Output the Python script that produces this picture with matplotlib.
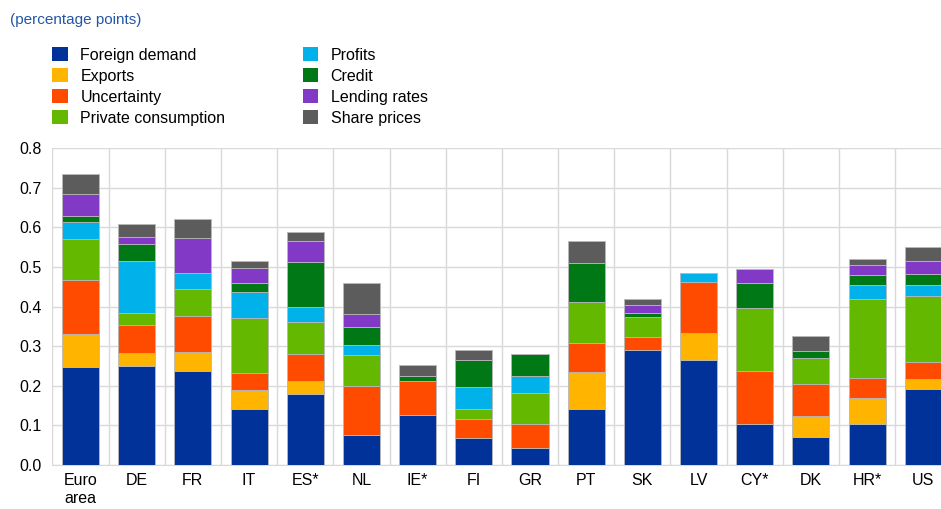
import matplotlib
matplotlib.use("Agg")
import matplotlib.pyplot as plt
import numpy as np
from matplotlib.patches import Patch

plt.rcParams['font.family'] = ['Liberation Sans', 'DejaVu Sans']

categories = ["Euro\narea", "DE", "FR", "IT", "ES*", "NL", "IE*", "FI", "GR", "PT",
              "SK", "LV", "CY*", "DK", "HR*", "US"]

series_names = ["Foreign demand", "Exports", "Uncertainty", "Private consumption",
                "Profits", "Credit", "Lending rates", "Share prices"]

foreign_demand = [0.248, 0.251, 0.238, 0.142, 0.179, 0.077, 0.127, 0.069, 0.044, 0.142,
                  0.291, 0.264, 0.104, 0.070, 0.104, 0.193]
exports = [0.083, 0.033, 0.047, 0.047, 0.033, 0.000, 0.000, 0.000, 0.000, 0.092,
           0.000, 0.069, 0.000, 0.055, 0.064, 0.023]
uncertainty = [0.136, 0.070, 0.092, 0.043, 0.069, 0.123, 0.084, 0.048, 0.059, 0.073,
               0.032, 0.130, 0.133, 0.080, 0.051, 0.044]
private_consumption = [0.104, 0.031, 0.067, 0.139, 0.081, 0.079, 0.000, 0.024, 0.078, 0.106,
                       0.051, 0.000, 0.159, 0.065, 0.200, 0.168]
profits = [0.043, 0.130, 0.040, 0.066, 0.036, 0.023, 0.000, 0.057, 0.043, 0.000,
           0.000, 0.021, 0.000, 0.000, 0.036, 0.027]
credit = [0.016, 0.042, 0.000, 0.023, 0.116, 0.047, 0.015, 0.066, 0.056, 0.096,
          0.011, 0.000, 0.064, 0.019, 0.026, 0.028]
lending_rates = [0.054, 0.019, 0.090, 0.038, 0.051, 0.033, 0.000, 0.000, 0.000, 0.000,
                 0.018, 0.000, 0.034, 0.000, 0.024, 0.032]
share_prices = [0.050, 0.032, 0.047, 0.017, 0.023, 0.077, 0.026, 0.027, 0.000, 0.058,
                0.016, 0.000, 0.000, 0.038, 0.015, 0.036]

colors = ["#003299", "#FFB400", "#FF4B00", "#65B800",
          "#00B1EA", "#007816", "#8139C6", "#5C5C5C"]

data = [foreign_demand, exports, uncertainty, private_consumption,
        profits, credit, lending_rates, share_prices]

W, H = 941, 509
fig = plt.figure(figsize=(W / 100, H / 100), dpi=100)
ax = fig.add_axes([52.4 / W, (H - 465) / H, 899 / W, 316.7 / H])

x = np.arange(len(categories))
bottom = np.zeros(len(categories))
for name, vals, col in zip(series_names, data, colors):
    vals = np.array(vals)
    ax.bar(x, vals, 0.66, bottom=bottom, color=col, edgecolor="#b8b8b8",
           linewidth=0.6, zorder=3, label=name)
    bottom += vals

ax.set_xlim(-0.5, len(categories) - 0.5)
ax.set_ylim(0, 0.8)
ax.set_yticks(np.arange(0, 0.81, 0.1))
ax.set_yticklabels([f"{v:.1f}" for v in np.arange(0, 0.81, 0.1)])
ax.set_xticks(x)
ax.set_xticklabels(categories)
ax.set_xticks(np.arange(-0.5, len(categories), 1), minor=True)
ax.grid(axis="y", which="major", color="#d9d9d9", linewidth=1, zorder=0)
ax.grid(axis="x", which="minor", color="#d9d9d9", linewidth=1, zorder=0)
ax.grid(axis="x", which="major", visible=False)
for s in ["top", "right", "left"]:
    ax.spines[s].set_visible(False)
ax.spines["bottom"].set_color("#d9d9d9")
ax.tick_params(axis="both", which="both", length=0, labelsize=11.5, colors="#000000")
ax.tick_params(axis="x", pad=6)
ax.tick_params(axis="y", pad=8)

fig.text(10 / W, 1 - 20 / H, "(percentage points)", color="#2356A8", fontsize=11,
         va="center", ha="left")

handles = [Patch(facecolor=c, edgecolor="none") for c in colors]
leg = fig.legend(handles, series_names, ncol=2, loc="upper left",
                 bbox_to_anchor=(38 / W, 1 - 33 / H), frameon=False, fontsize=11.5,
                 handlelength=0.95, handleheight=0.95, handletextpad=0.8,
                 labelspacing=0.35, columnspacing=4.85)

fig.savefig("out.png", dpi=100)
